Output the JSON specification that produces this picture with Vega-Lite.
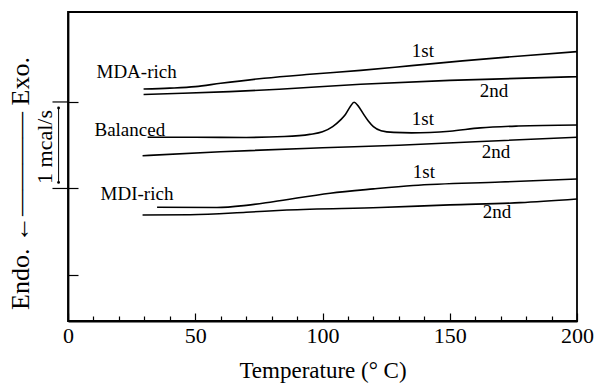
{
  "$schema": "https://vega.github.io/schema/vega-lite/v6.json",
  "width": 509,
  "height": 309,
  "autosize": "none",
  "padding": {"left": 68, "top": 12, "right": 17, "bottom": 67},
  "background": "white",
  "config": {
    "view": {"stroke": "black", "strokeWidth": 1.8},
    "font": "Liberation Serif"
  },
  "encoding": {
    "x": {
      "field": "T", "type": "quantitative",
      "scale": {"domain": [0, 200], "nice": false, "zero": false},
      "axis": {
        "title": "Temperature (° C)",
        "values": [0,10,20,30,40,50,60,70,80,90,100,110,120,130,140,150,160,170,180,190,200],
        "labelExpr": "datum.value % 50 === 0 ? datum.label : ''",
        "tickSize": {"condition": {"test": "datum.value % 50 === 0", "value": -8}, "value": -5},
        "grid": false,
        "domainColor": "black", "domainWidth": 1.8,
        "tickColor": "black", "tickWidth": 1.2,
        "labelFont": "Liberation Serif", "labelFontSize": 22, "labelColor": "black",
        "labelPadding": 12, "labelFlush": false, "labelOverlap": false,
        "titleFont": "Liberation Serif", "titleFontSize": 23, "titleFontWeight": "normal",
        "titleColor": "black", "titlePadding": 10
      }
    },
    "y": {
      "field": "v", "type": "quantitative",
      "scale": {"domain": [0.468, 4.04], "nice": false, "zero": false},
      "axis": {
        "title": "Endo. ←———— Exo.",
        "values": [1, 2, 3],
        "labels": false,
        "tickSize": -10,
        "grid": false,
        "domainColor": "black", "domainWidth": 1.8,
        "tickColor": "black", "tickWidth": 1.2,
        "titleFont": "Liberation Serif", "titleFontSize": 26, "titleFontWeight": "normal",
        "titleColor": "black",
        "titleAngle": 270, "titleAlign": "center", "titleBaseline": "middle",
        "titleX": -48, "titleY": 171
      }
    }
  },
  "layer": [
    {
      "data": {"values": [
        {"curve": "MDA-rich 1st", "T": 29.7, "v": 3.150},
        {"curve": "MDA-rich 1st", "T": 40, "v": 3.160},
        {"curve": "MDA-rich 1st", "T": 50, "v": 3.177},
        {"curve": "MDA-rich 1st", "T": 60, "v": 3.216},
        {"curve": "MDA-rich 1st", "T": 77, "v": 3.274},
        {"curve": "MDA-rich 1st", "T": 95, "v": 3.320},
        {"curve": "MDA-rich 1st", "T": 115, "v": 3.365},
        {"curve": "MDA-rich 1st", "T": 135, "v": 3.420},
        {"curve": "MDA-rich 1st", "T": 155, "v": 3.475},
        {"curve": "MDA-rich 1st", "T": 178, "v": 3.532},
        {"curve": "MDA-rich 1st", "T": 200, "v": 3.582},
        {"curve": "MDA-rich 2nd", "T": 29.7, "v": 3.087},
        {"curve": "MDA-rich 2nd", "T": 45, "v": 3.100},
        {"curve": "MDA-rich 2nd", "T": 63.5, "v": 3.119},
        {"curve": "MDA-rich 2nd", "T": 83, "v": 3.147},
        {"curve": "MDA-rich 2nd", "T": 115, "v": 3.205},
        {"curve": "MDA-rich 2nd", "T": 150, "v": 3.250},
        {"curve": "MDA-rich 2nd", "T": 200, "v": 3.292},
        {"curve": "Balanced 1st", "T": 31.3, "v": 2.592},
        {"curve": "Balanced 1st", "T": 50, "v": 2.592},
        {"curve": "Balanced 1st", "T": 70, "v": 2.590},
        {"curve": "Balanced 1st", "T": 85, "v": 2.600},
        {"curve": "Balanced 1st", "T": 95, "v": 2.625},
        {"curve": "Balanced 1st", "T": 100, "v": 2.655},
        {"curve": "Balanced 1st", "T": 104, "v": 2.715},
        {"curve": "Balanced 1st", "T": 107, "v": 2.790},
        {"curve": "Balanced 1st", "T": 109, "v": 2.855},
        {"curve": "Balanced 1st", "T": 111, "v": 2.950},
        {"curve": "Balanced 1st", "T": 112.4, "v": 2.997},
        {"curve": "Balanced 1st", "T": 114, "v": 2.955},
        {"curve": "Balanced 1st", "T": 116, "v": 2.865},
        {"curve": "Balanced 1st", "T": 118, "v": 2.780},
        {"curve": "Balanced 1st", "T": 120, "v": 2.715},
        {"curve": "Balanced 1st", "T": 123, "v": 2.668},
        {"curve": "Balanced 1st", "T": 128, "v": 2.648},
        {"curve": "Balanced 1st", "T": 135, "v": 2.643},
        {"curve": "Balanced 1st", "T": 150, "v": 2.662},
        {"curve": "Balanced 1st", "T": 162, "v": 2.700},
        {"curve": "Balanced 1st", "T": 177, "v": 2.722},
        {"curve": "Balanced 1st", "T": 200, "v": 2.734},
        {"curve": "Balanced 2nd", "T": 29.3, "v": 2.379},
        {"curve": "Balanced 2nd", "T": 60, "v": 2.425},
        {"curve": "Balanced 2nd", "T": 100, "v": 2.470},
        {"curve": "Balanced 2nd", "T": 130, "v": 2.500},
        {"curve": "Balanced 2nd", "T": 160, "v": 2.540},
        {"curve": "Balanced 2nd", "T": 200, "v": 2.592},
        {"curve": "MDI-rich 1st", "T": 35, "v": 1.783},
        {"curve": "MDI-rich 1st", "T": 58.5, "v": 1.780},
        {"curve": "MDI-rich 1st", "T": 70, "v": 1.805},
        {"curve": "MDI-rich 1st", "T": 80.6, "v": 1.847},
        {"curve": "MDI-rich 1st", "T": 103, "v": 1.945},
        {"curve": "MDI-rich 1st", "T": 120, "v": 1.995},
        {"curve": "MDI-rich 1st", "T": 135.6, "v": 2.035},
        {"curve": "MDI-rich 1st", "T": 170, "v": 2.075},
        {"curve": "MDI-rich 1st", "T": 200, "v": 2.110},
        {"curve": "MDI-rich 2nd", "T": 29.3, "v": 1.694},
        {"curve": "MDI-rich 2nd", "T": 48, "v": 1.697},
        {"curve": "MDI-rich 2nd", "T": 70, "v": 1.725},
        {"curve": "MDI-rich 2nd", "T": 86, "v": 1.751},
        {"curve": "MDI-rich 2nd", "T": 122.6, "v": 1.780},
        {"curve": "MDI-rich 2nd", "T": 150, "v": 1.810},
        {"curve": "MDI-rich 2nd", "T": 177.6, "v": 1.836},
        {"curve": "MDI-rich 2nd", "T": 200, "v": 1.879}
      ]},
      "mark": {"type": "line", "color": "black", "strokeWidth": 1.6, "interpolate": "monotone"},
      "encoding": {"detail": {"field": "curve", "type": "nominal"}}
    },
    {
      "data": {"values": [
        {"label": "MDA-rich", "T": 11.2, "v": 3.277},
        {"label": "Balanced", "T": 10.4, "v": 2.607},
        {"label": "MDI-rich", "T": 12.8, "v": 1.867},
        {"label": "1st", "T": 135.1, "v": 3.520},
        {"label": "2nd", "T": 161.8, "v": 3.058},
        {"label": "1st", "T": 135.1, "v": 2.734},
        {"label": "2nd", "T": 162.6, "v": 2.353},
        {"label": "1st", "T": 135.5, "v": 2.121},
        {"label": "2nd", "T": 163.0, "v": 1.659}
      ]},
      "mark": {"type": "text", "align": "left", "baseline": "alphabetic", "font": "Liberation Serif", "fontSize": 19, "color": "black"},
      "encoding": {"text": {"field": "label", "type": "nominal"}}
    },
    {
      "data": {"values": [
        {"T": -6.1, "T2": 0, "v": 2},
        {"T": -6.1, "T2": 0, "v": 3}
      ]},
      "mark": {"type": "rule", "color": "black", "strokeWidth": 1.2},
      "encoding": {"x2": {"field": "T2"}}
    },
    {
      "data": {"values": [
        {"T": -3.7, "v": 2.07, "v2": 2.93}
      ]},
      "mark": {"type": "rule", "color": "black", "strokeWidth": 1},
      "encoding": {"y2": {"field": "v2"}}
    },
    {
      "data": {"values": [
        {"T": -3.7, "v": 2.07},
        {"T": -3.7, "v": 2.93}
      ]},
      "mark": {"type": "point", "filled": true, "color": "black", "size": 8, "opacity": 1}
    },
    {
      "data": {"values": [
        {"label": "1 mcal/s", "T": -8.85, "v": 2.48}
      ]},
      "mark": {"type": "text", "angle": 270, "align": "center", "baseline": "middle", "font": "Liberation Serif", "fontSize": 22, "color": "black"},
      "encoding": {"text": {"field": "label", "type": "nominal"}}
    }
  ]
}
